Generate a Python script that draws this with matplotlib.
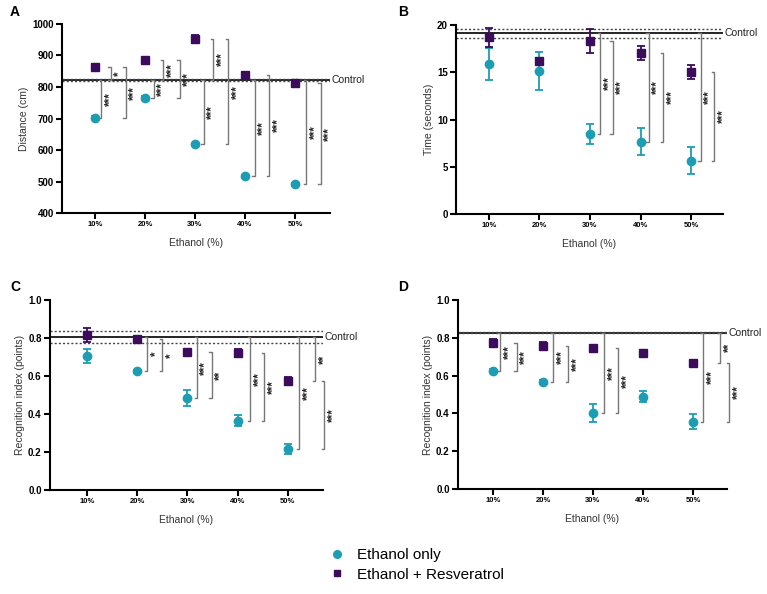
import matplotlib
matplotlib.use("Agg")
import matplotlib.pyplot as plt
from matplotlib.lines import Line2D
from matplotlib.ticker import FormatStrFormatter

plt.rcParams["font.family"] = ["Liberation Sans", "DejaVu Sans"]

# ---------- Data ----------
doses = ["10%", "20%", "30%", "40%", "50%"]

# Panel A: distance (cm)
dist_eth = [702, 766, 618, 517, 491]
dist_eth_err = [5, 6, 5, 5, 5]
dist_res = [862, 885, 952, 839, 813]
dist_res_err = [5, 6, 13, 5, 5]
dist_ctrl = 823
dist_ctrl_sem = 2.5
# comparisons: (dose index, from, to, label)
dist_stats = [
    (0, "eth", "ctrl", "***"), (0, "res", "ctrl", "*"), (0, "eth", "res", "***"),
    (1, "eth", "ctrl", "***"), (1, "res", "ctrl", "***"), (1, "eth", "res", "***"),
    (2, "eth", "ctrl", "***"), (2, "res", "ctrl", "***"), (2, "eth", "res", "***"),
    (3, "eth", "ctrl", "***"), (3, "eth", "res", "***"),
    (4, "eth", "ctrl", "***"), (4, "eth", "res", "***"),
]

# Panel B: time (seconds)
time_eth = [15.85, 15.15, 8.5, 7.65, 5.65]
time_eth_err = [1.7, 2.0, 1.05, 1.45, 1.45]
time_res = [18.7, 16.2, 18.3, 17.0, 15.0]
time_res_err = [1.0, 0.3, 1.3, 0.75, 0.75]
time_ctrl = 19.15
time_ctrl_sem = 0.48
time_stats = [
    (2, "eth", "ctrl", "***"), (2, "eth", "res", "***"),
    (3, "eth", "ctrl", "***"), (3, "eth", "res", "***"),
    (4, "eth", "ctrl", "***"), (4, "eth", "res", "***"),
]

# Panel C: recognition index
ri_c_eth = [0.706, 0.625, 0.483, 0.365, 0.216]
ri_c_eth_err = [0.036, 0.008, 0.042, 0.028, 0.028]
ri_c_res = [0.815, 0.793, 0.728, 0.720, 0.571]
ri_c_res_err = [0.038, 0.012, 0.010, 0.022, 0.021]
ri_c_ctrl = 0.805
ri_c_ctrl_sem = 0.033
ri_c_stats = [
    (1, "eth", "ctrl", "*"), (1, "eth", "res", "*"),
    (2, "eth", "ctrl", "***"), (2, "eth", "res", "**"),
    (3, "eth", "ctrl", "***"), (3, "eth", "res", "***"),
    (4, "eth", "ctrl", "***"), (4, "res", "ctrl", "**"), (4, "eth", "res", "***"),
]

# Panel D: recognition index
ri_d_eth = [0.625, 0.567, 0.402, 0.489, 0.357]
ri_d_eth_err = [0.008, 0.012, 0.045, 0.029, 0.039]
ri_d_res = [0.772, 0.756, 0.745, 0.720, 0.669]
ri_d_res_err = [0.023, 0.022, 0.010, 0.006, 0.006]
ri_d_ctrl = 0.826
ri_d_ctrl_sem = 0.003
ri_d_stats = [
    (0, "eth", "ctrl", "***"), (0, "eth", "res", "***"),
    (1, "eth", "ctrl", "***"), (1, "eth", "res", "***"),
    (2, "eth", "ctrl", "***"), (2, "eth", "res", "***"),
    (4, "eth", "ctrl", "***"), (4, "res", "ctrl", "**"), (4, "eth", "res", "***"),
]

TEAL = "#1d9db3"
PURPLE = "#3c0b5c"
BRACKET = "#777777"


def draw_panel(ax, eth, eth_err, res, res_err, ctrl, ctrl_sem, stats,
               ylabel, ylim, yticks, xlim, offsets, fmt, tick_len):
    x = list(range(1, len(doses) + 1))

    # control mean + SEM band
    ax.axhline(ctrl, color="black", lw=1.2, zorder=1)
    ax.axhline(ctrl + ctrl_sem, color="#444444", lw=1.0, ls=(0, (1.5, 1.5)), zorder=1)
    ax.axhline(ctrl - ctrl_sem, color="#444444", lw=1.0, ls=(0, (1.5, 1.5)), zorder=1)
    ax.text(1.005, ctrl, "Control", transform=ax.get_yaxis_transform(),
            va="center", ha="left", fontsize=7.5, color="#222222", clip_on=False)

    ax.errorbar(x, eth, yerr=eth_err, fmt="o", color=TEAL, ms=6, capsize=3,
                elinewidth=1.3, capthick=1.3, zorder=4, clip_on=False)
    ax.errorbar(x, res, yerr=res_err, fmt="s", color=PURPLE, ms=6, capsize=3,
                elinewidth=1.3, capthick=1.3, zorder=4, clip_on=False)

    # significance brackets
    vals = {"eth": eth, "res": res}
    for (i, a, b, label), off in zip(stats, offsets):
        ya = ctrl if a == "ctrl" else vals[a][i]
        yb = ctrl if b == "ctrl" else vals[b][i]
        bx = x[i] + off
        ax.plot([bx - tick_len, bx, bx, bx - tick_len], [ya, ya, yb, yb],
                color=BRACKET, lw=1.0, zorder=2, clip_on=False)
        ax.text(bx + 0.17, (ya + yb) / 2, label, rotation=90, fontsize=8.5,
                fontweight="bold", ha="center", va="center", color="#222222")

    ax.set_xlim(*xlim)
    ax.set_ylim(*ylim)
    ax.set_yticks(yticks)
    ax.yaxis.set_major_formatter(FormatStrFormatter(fmt))
    ax.set_xticks(x)
    ax.set_xticklabels(doses, fontsize=5.5, fontweight="bold")
    for t in ax.get_yticklabels():
        t.set_fontsize(7)
        t.set_fontweight("bold")
    ax.set_xlabel("Ethanol (%)", fontsize=7.5, labelpad=7, color="#333333")
    ax.set_ylabel(ylabel, fontsize=7.5, labelpad=2, color="#333333")
    ax.spines["top"].set_visible(False)
    ax.spines["right"].set_visible(False)
    ax.spines["left"].set_linewidth(1.5)
    ax.spines["bottom"].set_linewidth(1.5)
    ax.tick_params(axis="both", width=1.5, length=4, pad=2)


def main():
    fig = plt.figure(figsize=(7.67, 5.94), dpi=100)

    ax_a = fig.add_axes([0.0808, 0.6414, 0.3494, 0.3182])
    ax_b = fig.add_axes([0.5945, 0.6397, 0.3481, 0.3182])
    ax_c = fig.add_axes([0.0652, 0.1751, 0.3559, 0.3199])
    ax_d = fig.add_axes([0.5971, 0.1768, 0.3507, 0.3182])

    draw_panel(ax_a, dist_eth, dist_eth_err, dist_res, dist_res_err,
               dist_ctrl, dist_ctrl_sem, dist_stats, "Distance (cm)",
               (400, 1000), range(400, 1001, 100), (0.34, 5.7),
               [0.13, 0.32, 0.62, 0.18, 0.37, 0.70, 0.18, 0.37, 0.67,
                0.2, 0.49, 0.23, 0.52], "%d", 0.05)
    draw_panel(ax_b, time_eth, time_eth_err, time_res, time_res_err,
               time_ctrl, time_ctrl_sem, time_stats, "Time (seconds)",
               (0, 20), range(0, 21, 5), (0.35, 5.63),
               [0.2, 0.45, 0.16, 0.45, 0.19, 0.46], "%d", 0.05)
    draw_panel(ax_c, ri_c_eth, ri_c_eth_err, ri_c_res, ri_c_res_err,
               ri_c_ctrl, ri_c_ctrl_sem, ri_c_stats, "Recognition index (points)",
               (0, 1), [0, 0.2, 0.4, 0.6, 0.8, 1.0], (0.26, 5.7),
               [0.2, 0.5, 0.19, 0.48, 0.25, 0.53, 0.23, 0.55, 0.73], "%.1f", 0.05)
    draw_panel(ax_d, ri_d_eth, ri_d_eth_err, ri_d_res, ri_d_res_err,
               ri_d_ctrl, ri_d_ctrl_sem, ri_d_stats, "Recognition index (points)",
               (0, 1), [0, 0.2, 0.4, 0.6, 0.8, 1.0], (0.3, 5.68),
               [0.15, 0.48, 0.21, 0.51, 0.23, 0.51, 0.21, 0.55, 0.73], "%.1f", 0.05)

    # panel letters
    for letter, px, py in [("A", 10, 12), ("B", 398, 12), ("C", 10, 287), ("D", 398, 287)]:
        fig.text(px / 767, 1 - py / 594, letter, fontsize=10, fontweight="bold",
                 ha="left", va="center")

    handles = [
        Line2D([], [], marker="o", ls="none", color=TEAL, ms=5.5),
        Line2D([], [], marker="s", ls="none", color=PURPLE, ms=4.5),
    ]
    fig.legend(handles, ["Ethanol only", "Ethanol + Resveratrol"],
               loc="upper left", bbox_to_anchor=(0.429, 0.077), frameon=False,
               fontsize=11, handlelength=1, handletextpad=0.8,
               labelspacing=0.35, borderpad=0, borderaxespad=0)

    fig.savefig("out.png", dpi=100)
    plt.close(fig)


if __name__ == "__main__":
    main()
